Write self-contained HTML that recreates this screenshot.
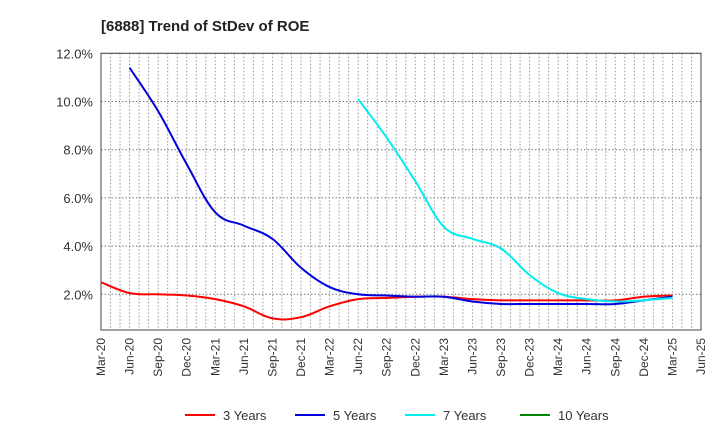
<!DOCTYPE html>
<html><head><meta charset="utf-8"><style>
body{margin:0;background:#fff;font-family:"Liberation Sans",sans-serif}
</style></head><body>
<svg id="c" width="720" height="440" xmlns="http://www.w3.org/2000/svg">
<text x="101" y="31" font-size="15" font-weight="bold" fill="#222">[6888]  Trend of StDev of ROE</text>
</svg>
<script>
const quarters=["Mar-20","Jun-20","Sep-20","Dec-20","Mar-21","Jun-21","Sep-21","Dec-21","Mar-22","Jun-22","Sep-22","Dec-22","Mar-23","Jun-23","Sep-23","Dec-23","Mar-24","Jun-24","Sep-24","Dec-24","Mar-25","Jun-25"];
const yTicks=[2,4,6,8,10,12];
const s3=[2.5,2.05,2.0,1.95,1.8,1.5,1.0,1.05,1.5,1.8,1.85,1.9,1.9,1.8,1.75,1.75,1.75,1.75,1.75,1.9,1.95];
const s5=[null,11.4,9.6,7.4,5.4,4.85,4.3,3.1,2.3,2.0,1.95,1.9,1.9,1.7,1.6,1.6,1.6,1.6,1.6,1.75,1.9];
const s7=[null,null,null,null,null,null,null,null,null,10.1,8.5,6.7,4.8,4.3,3.9,2.8,2.05,1.8,1.7,1.75,1.85];
const s10=[];
const NS="http://www.w3.org/2000/svg";
const svg=document.getElementById('c');
const L=101,R=701,T=53.3,B=330,YMAX=12,PPU=24.1;
const x=i=>L+i*(R-L)/(quarters.length-1);
const y=v=>T+(YMAX-v)*PPU;
function mk(t,a,p){const e=document.createElementNS(NS,t);for(const k in a)e.setAttribute(k,a[k]);(p||svg).appendChild(e);return e;}
// grid
const nM=(quarters.length-1)*3;
for(let m=1;m<nM;m++){const gx=L+m*(R-L)/nM;
const g=mk('line',{x1:gx,x2:gx,y1:T,y2:B,stroke:'#999','stroke-dasharray':'1.5,2','stroke-width':1});

}
yTicks.forEach(v=>{
const g=mk('line',{x1:L,x2:R,y1:y(v),y2:y(v),stroke:'#777','stroke-dasharray':'1.5,2','stroke-width':1});


const t=mk('text',{x:L-8,y:y(v)+5,'text-anchor':'end','font-size':13,fill:'#333'});t.textContent=v.toFixed(1)+'%';


});
const fr=mk('rect',{x:L,y:T,width:R-L,height:B-T,fill:'none',stroke:'#444','stroke-width':1});


quarters.forEach((q,i)=>{
const t=mk('text',{x:0,y:0,'text-anchor':'end','font-size':12,fill:'#333',transform:`translate(${x(i)+4},${B+8}) rotate(-90)`});t.textContent=q;


});
function path(arr){const pts=[];arr.forEach((v,i)=>{if(v!=null)pts.push([x(i),y(v)]);});
if(pts.length<2)return '';let d=`M${pts[0][0]},${pts[0][1]}`;
for(let i=0;i<pts.length-1;i++){const p0=pts[Math.max(0,i-1)],p1=pts[i],p2=pts[i+1],p3=pts[Math.min(pts.length-1,i+2)];
const k=0.18;d+=` C${p1[0]+(p2[0]-p0[0])*k},${p1[1]+(p2[1]-p0[1])*k} ${p2[0]-(p3[0]-p1[0])*k},${p2[1]-(p3[1]-p1[1])*k} ${p2[0]},${p2[1]}`;}
return d;}
const series=[[s3,'#ff0000','3 Years',185],[s5,'#0000dd','5 Years',295],[s7,'#00eeee','7 Years',405],[s10,'#008800','10 Years',520]];
series.forEach(([a,c,n,lx])=>{
const d=path(a);
if(d){const p=mk('path',{d:d,fill:'none',stroke:c,'stroke-width':2});

}
const ll=mk('line',{x1:lx,x2:lx+30,y1:415,y2:415,stroke:c,'stroke-width':2});


const lt=mk('text',{x:lx+38,y:420,'font-size':13,fill:'#333'});lt.textContent=n;


});
</script>
</body></html>
